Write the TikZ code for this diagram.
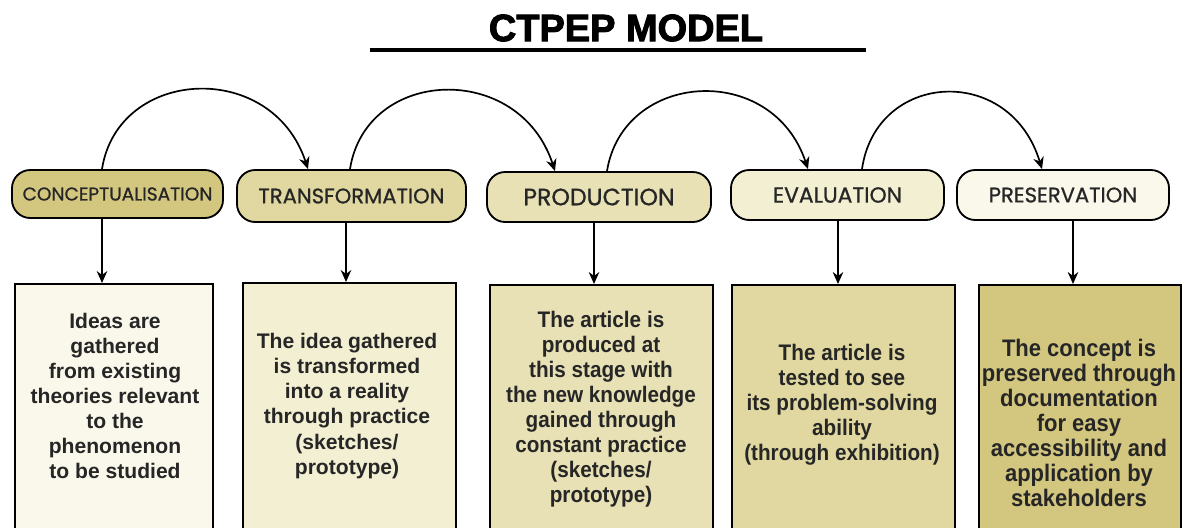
\documentclass[tikz,border=0pt]{standalone}
\usepackage{fontspec}
\setmainfont{Liberation Sans}
\newfontfamily\stagefont{Poppins}[FakeBold=0.9]
\newfontfamily\headfont{Liberation Sans}[BoldFeatures={FakeBold=2.5}]
\newfontfamily\narrowfont{Liberation Sans}[FakeStretch=0.92]
\usetikzlibrary{calc,arrows.meta}

\definecolor{stageA}{HTML}{D3C67F}
\definecolor{stageB}{HTML}{E0D8A0}
\definecolor{stageC}{HTML}{E8E1B5}
\definecolor{stageD}{HTML}{F3EFD2}
\definecolor{stageE}{HTML}{FAF8EA}
\definecolor{inkgrey}{HTML}{262626}

\begin{document}
\begin{tikzpicture}[x=0.025cm, y=0.025cm,
    stage/.style={draw, line width=1.3pt, rounded corners=13pt, inner sep=0pt,
      text=inkgrey},
    desc/.style={draw, line width=1.2pt, anchor=north, minimum height=6.5cm},
    desctext/.style={align=center, text=inkgrey,
      font=\bfseries\fontsize{15}{17.8}\selectfont},
    narrowtext/.style={align=center, text=inkgrey,
      font=\narrowfont\bfseries\fontsize{16}{17.8}\selectfont},
    arr/.style={-{Stealth[length=8.5pt,width=7.5pt]}, line width=1.2pt}]
  \useasboundingbox (0,0) rectangle (1183,-527);

  % title
  \node [font=\headfont\bfseries\fontsize{27}{30}\selectfont] (title) at (626,-28) {CTPEP MODEL};
  \draw [line width=2.2pt] (370,-50) -- (866,-50);

  % the five stages
  \node [stage, fill=stageA, minimum width=5.275cm, minimum height=1.2cm,
         font=\stagefont\fontsize{13.2}{15}\selectfont] (s1) at (117.5,-194) {CONCEPTUALISATION};
  \node [stage, fill=stageB, minimum width=5.725cm, minimum height=1.3cm,
         font=\stagefont\fontsize{15}{17}\selectfont] (s2) at (351.5,-196) {TRANSFORMATION};
  \node [stage, fill=stageC, minimum width=5.6cm, minimum height=1.25cm,
         font=\stagefont\fontsize{16.8}{18}\selectfont] (s3) at (599,-197) {PRODUCTION};
  \node [stage, fill=stageD, minimum width=5.325cm, minimum height=1.25cm,
         font=\stagefont\fontsize{15.5}{17}\selectfont] (s4) at (837.5,-195) {EVALUATION};
  \node [stage, fill=stageE, minimum width=5.3cm, minimum height=1.25cm,
         font=\stagefont\fontsize{15}{17}\selectfont] (s5) at (1063,-195) {PRESERVATION};

  % description boxes
  \node [desc, fill=stageE, minimum width=4.95cm]  (d1) at (114,-283) {};
  \node [desc, fill=stageD, minimum width=5.325cm] (d2) at (349.5,-282) {};
  \node [desc, fill=stageC, minimum width=5.575cm] (d3) at (601.5,-284) {};
  \node [desc, fill=stageB, minimum width=5.575cm] (d4) at (843.5,-284) {};
  \node [desc, fill=stageA, minimum width=5.05cm]  (d5) at (1080,-284) {};

  \node [desctext] (t1) at (115,-396) {Ideas are\\gathered\\from existing\\theories relevant\\to the\\phenomenon\\to be studied};
  \node [desctext] (t2) at (347,-406) {The idea gathered\\is transformed\\into a reality\\through practice\\(sketches/\\prototype)};
  \node [narrowtext] (t3) at (601,-409) {The article is\\produced at\\this stage with\\the new knowledge\\gained through\\constant practice\\(sketches/\\prototype)};
  \node [narrowtext] (t4) at (842,-405) {The article is\\tested to see\\its problem-solving\\ability\\(through exhibition)};
  \node [narrowtext, font=\narrowfont\bfseries\fontsize{17}{17.8}\selectfont] (t5) at (1079,-423) {The concept is\\preserved through\\documentation\\for easy\\accessibility and\\application by\\stakeholders};

  % stage to description
  \coordinate (a1) at ($(d1.north)+(-12,0)$);
  \coordinate (a2) at ($(d2.north)+(-3.5,0)$);
  \coordinate (a3) at ($(d3.north)+(-7.5,0)$);
  \coordinate (a4) at ($(d4.north)+(-5.5,0)$);
  \coordinate (a5) at ($(d5.north)+(-7,0)$);
  \draw [arr] (a1 |- s1.south) -- (a1);
  \draw [arr] (a2 |- s2.south) -- (a2);
  \draw [arr] (a3 |- s3.south) -- (a3);
  \draw [arr] (a4 |- s4.south) -- (a4);
  \draw [arr] (a5 |- s5.south) -- (a5);

  % stage to stage
  \draw [arr] ($(s1.north)+(-15.5,0)$) .. controls +(16,102) and +(-36,110) .. ($(s2.north)+(-43.5,0)$);
  \draw [arr] ($(s2.north)+(-1.5,0)$) .. controls +(16,102) and +(-36,110) .. ($(s3.north)+(-44,0)$);
  \draw [arr] ($(s3.north)+(8,0)$) .. controls +(16,100) and +(-36,108) .. ($(s4.north)+(-29.5,0)$);
  \draw [arr] ($(s4.north)+(24.5,0)$) .. controls +(14,98) and +(-32,106) .. ($(s5.north)+(-21,0)$);
\end{tikzpicture}
\end{document}
